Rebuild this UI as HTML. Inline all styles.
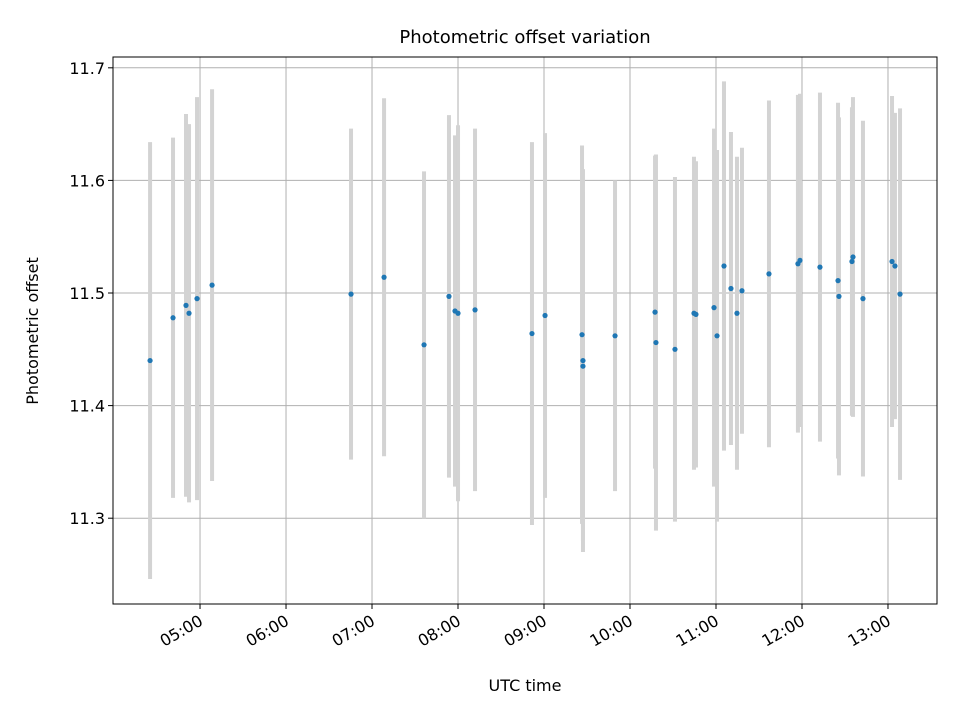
<!DOCTYPE html>
<html><head><meta charset="utf-8"><style>
body{margin:0;background:#fff;}
text{font-family:"DejaVu Sans","Liberation Sans",sans-serif;fill:#000;}
</style></head><body>
<svg id="chart" width="960" height="720" xmlns="http://www.w3.org/2000/svg">
<rect width="960" height="720" fill="#fff"/>
<g id="grid"></g>
<g id="bars"></g>
<g id="pts"></g>
<rect x="113" y="57" width="824" height="547" fill="none" stroke="#000" stroke-width="1"/>
<g id="axes"></g>
<text x="525" y="43" font-size="18" text-anchor="middle">Photometric offset variation</text>
<text x="525" y="691" font-size="16" text-anchor="middle">UTC time</text>
<text x="38" y="331" font-size="16" text-anchor="middle" transform="rotate(-90 38 331)">Photometric offset</text>
</svg>
<script>
const times=[4.419,4.686,4.837,4.872,4.965,5.140,6.756,7.140,7.605,7.895,7.965,8.000,8.198,8.860,9.012,9.442,9.453,9.453,9.826,10.291,10.302,10.523,10.744,10.767,10.977,11.012,11.093,11.174,11.244,11.302,11.616,11.953,11.977,12.209,12.419,12.430,12.581,12.593,12.709,13.047,13.081,13.140];
const offsets=[11.440,11.478,11.489,11.482,11.495,11.507,11.499,11.514,11.454,11.497,11.484,11.482,11.485,11.464,11.480,11.463,11.440,11.435,11.462,11.483,11.456,11.450,11.482,11.481,11.487,11.462,11.524,11.504,11.482,11.502,11.517,11.526,11.529,11.523,11.511,11.497,11.528,11.532,11.495,11.528,11.524,11.499];
const errors=[0.194,0.160,0.170,0.168,0.179,0.174,0.147,0.159,0.154,0.161,0.156,0.167,0.161,0.170,0.162,0.168,0.170,0.155,0.138,0.139,0.167,0.153,0.139,0.136,0.159,0.165,0.164,0.139,0.139,0.127,0.154,0.150,0.148,0.155,0.158,0.159,0.137,0.142,0.158,0.147,0.136,0.165];
const xTicks=[5,6,7,8,9,10,11,12,13];
const xTickLabels=["05:00","06:00","07:00","08:00","09:00","10:00","11:00","12:00","13:00"];
const yTicks=[11.3,11.4,11.5,11.6,11.7];
const yTickLabels=["11.3","11.4","11.5","11.6","11.7"];
const NS="http://www.w3.org/2000/svg";
const X0=113,X1=937,Y0=604,Y1=57,xmin=3.988,xmax=13.570,ymin=11.2238,ymax=11.7096;
const sx=v=>X0+(v-xmin)/(xmax-xmin)*(X1-X0);
const sy=v=>Y0-(v-ymin)/(ymax-ymin)*(Y0-Y1);
function mk(tag,attrs,parent){const e=document.createElementNS(NS,tag);for(const k in attrs)e.setAttribute(k,attrs[k]);document.getElementById(parent).appendChild(e);return e;}
xTicks.forEach((t,i)=>{const x=sx(t);
 let g=mk('line',{x1:x,x2:x,y1:Y1,y2:Y0,stroke:'#b0b0b0','stroke-width':1},'grid');
 
 
 let tk=mk('line',{x1:x,x2:x,y1:Y0,y2:Y0+5,stroke:'#000'},'axes');
 
 
 let tx=mk('text',{x:x+4,y:Y0+20,'font-size':16,'text-anchor':'end',transform:`rotate(-30 ${x+4} ${Y0+20})`},'axes');
 tx.textContent=xTickLabels[i];
 
 
});
yTicks.forEach((t,i)=>{const y=sy(t);
 let g=mk('line',{x1:X0,x2:X1,y1:y,y2:y,stroke:'#b0b0b0','stroke-width':1},'grid');
 
 
 let tk=mk('line',{x1:X0-5,x2:X0,y1:y,y2:y,stroke:'#000'},'axes');
 
 
 let tx=mk('text',{x:X0-8,y:y+6,'font-size':16,'text-anchor':'end'},'axes');
 tx.textContent=yTickLabels[i];
 
 
});
times.forEach((t,i)=>{const x=sx(t);
 let b=mk('line',{x1:x,x2:x,y1:sy(offsets[i]+errors[i]),y2:sy(offsets[i]-errors[i]),stroke:'#d3d3d3','stroke-width':4},'bars');
 
 
});
times.forEach((t,i)=>{
 let p=mk('circle',{cx:sx(t),cy:sy(offsets[i]),r:2.6,fill:'#1f77b4'},'pts');
 
 
});
</script>
</body></html>
